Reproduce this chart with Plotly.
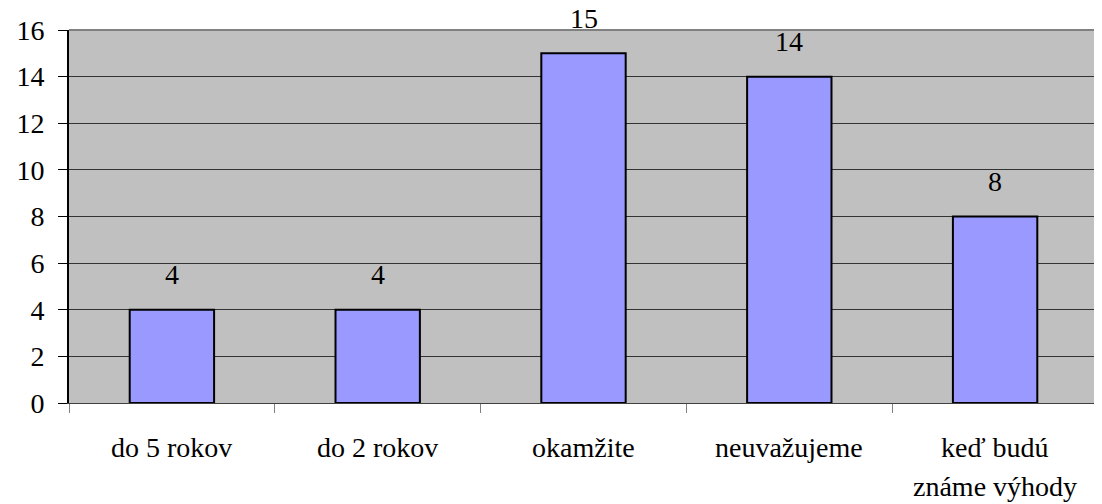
import plotly.graph_objects as go

categories = ["do 5 rokov", "do 2 rokov", "okamžite", "neuvažujeme", "keď budú známe výhody"]
values = [4, 4, 15, 14, 8]
label_lines = [["do 5 rokov"], ["do 2 rokov"], ["okamžite"], ["neuvažujeme"], ["keď budú", "známe výhody"]]
y_ticks = [0, 2, 4, 6, 8, 10, 12, 14, 16]

FONT = "Liberation Serif"

fig = go.Figure()
fig.add_trace(go.Bar(
    x=categories, y=values,
    marker=dict(color="#9999FF", line=dict(color="#000000", width=2)),
    width=0.41,
))

for c, v in zip(categories, values):
    fig.add_annotation(x=c, y=v, xref="x", yref="y", text=str(v), showarrow=False,
                       yanchor="middle", yshift=35,
                       font=dict(family=FONT, size=28, color="#000000"))
for c, lines in zip(categories, label_lines):
    for i, ln in enumerate(lines):
        fig.add_annotation(x=c, y=0, xref="x", yref="paper", text=ln, showarrow=False,
                           yanchor="middle", yshift=-44 - 39 * i,
                           font=dict(family=FONT, size=28, color="#000000"))

fig.add_shape(type="line", xref="paper", yref="paper", x0=0, x1=1, y0=1, y1=1,
              line=dict(color="#808080", width=2))

fig.update_layout(
    width=1094, height=496,
    margin=dict(l=61, r=4, t=22, b=101, autoexpand=False),
    paper_bgcolor="#FFFFFF", plot_bgcolor="#C0C0C0",
    showlegend=False,
)
fig.update_xaxes(
    type="category", showticklabels=False, tickson="boundaries",
    ticks="outside", ticklen=9, tickcolor="#808080", tickwidth=1,
    showline=True, linecolor="#404040", linewidth=1,
    showgrid=False, zeroline=False,
)
fig.update_yaxes(
    range=[0, 16], tickvals=y_ticks, ticks="outside", ticklen=9,
    tickcolor="#000000", tickwidth=1,
    showline=True, linecolor="#000000", linewidth=2,
    showgrid=True, gridcolor="#333333", gridwidth=1,
    zeroline=False, ticklabelstandoff=8,
    tickfont=dict(family=FONT, size=28, color="#000000"),
)

fig.write_html("out.html")
